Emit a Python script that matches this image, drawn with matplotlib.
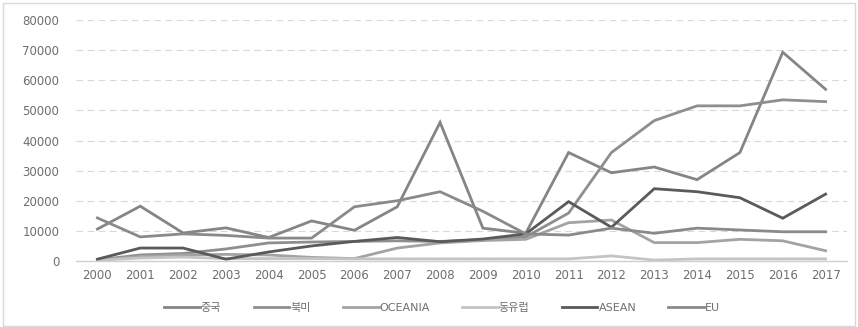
import matplotlib.pyplot as plt
from matplotlib.patches import Rectangle

plt.rcParams['font.family'] = ['DejaVu Sans', 'Noto Sans CJK KR']

years = [str(y) for y in range(2000, 2018)]

china   = [10600, 18200, 9300, 11000, 7800, 13300, 10200, 18000, 46000, 10900,
           9200, 36000, 29300, 31200, 27000, 36000, 69300, 57000]
namerica = [400, 2000, 2500, 4000, 6000, 6300, 6500, 6700, 6500, 7000,
            8000, 15900, 36000, 46600, 51500, 51500, 53500, 52900]
oceania = [300, 1500, 2000, 2200, 2000, 1200, 800, 4300, 6000, 6800,
           7200, 12700, 13600, 6100, 6100, 7200, 6700, 3400]
eeurope = [200, 1000, 1300, 800, 800, 800, 700, 700, 700, 700,
           700, 700, 1700, 300, 700, 700, 700, 700]
asean   = [600, 4300, 4300, 600, 3000, 5000, 6500, 7800, 6400, 7300,
           9000, 19700, 11200, 24000, 23000, 21000, 14200, 22200]
eu      = [14300, 8000, 9000, 8500, 7600, 7600, 18000, 20000, 23000, 16500,
           9000, 8600, 10900, 9200, 10900, 10300, 9700, 9700]

series = [
    ("중국", china, "#858585"),
    ("북미", namerica, "#8e8e8e"),
    ("OCEANIA", oceania, "#a3a3a3"),
    ("동유럽", eeurope, "#c4c4c4"),
    ("ASEAN", asean, "#5a5a5a"),
    ("EU", eu, "#8a8a8a"),
]

fig = plt.figure(figsize=(8.58, 3.27), dpi=100)
ax = fig.add_axes([76 / 858, 1 - 261 / 327, (847 - 76) / 858, (261 - 20) / 327])

x = list(range(len(years)))
for name, vals, col in series:
    ax.plot(x, vals, color=col, linewidth=2.0, label=name, solid_joinstyle="miter")

ax.set_xlim(-0.5, len(years) - 0.5)
ax.set_ylim(0, 80000)
ax.set_yticks(range(0, 80001, 10000))
ax.set_xticks(x)
ax.set_xticklabels(years)
ax.yaxis.grid(True, color="#d8d8d8", linestyle=(0, (6, 4)), linewidth=0.8)
ax.set_axisbelow(True)
for s in ["top", "right", "left"]:
    ax.spines[s].set_visible(False)
ax.spines["bottom"].set_color("#d0d0d0")
ax.spines["bottom"].set_linewidth(1.0)
ax.tick_params(axis="both", length=0, colors="#6e6e6e", labelsize=8.5)
ax.tick_params(axis="y", pad=12)
ax.tick_params(axis="x", pad=6)

ax.legend(loc="center", bbox_to_anchor=(0.475, -0.195), ncol=6, frameon=False,
          fontsize=8, handlelength=3.2, handletextpad=0.1, columnspacing=2.9,
          labelcolor="#6e6e6e")

fig.patches.append(Rectangle((0.003, 0.003), 0.994, 0.988, transform=fig.transFigure,
                             fill=False, edgecolor="#d9d9d9", linewidth=1.0))

fig.savefig("out.png", dpi=100)
